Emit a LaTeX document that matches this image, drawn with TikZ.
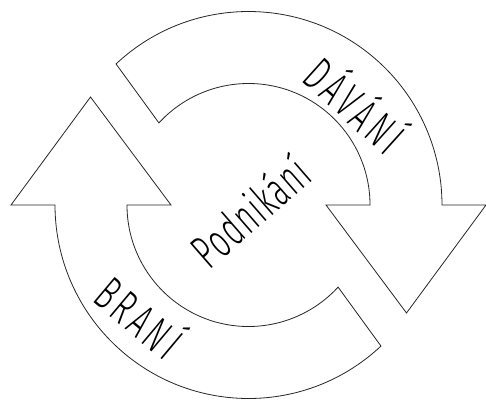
\documentclass[tikz,border=0pt]{standalone}
\usepackage{fontspec}
\newfontfamily\hand{Fira Sans}[UprightFont={* Light},FakeStretch=0.6,LetterSpace=9]
\newfontfamily\handtight{Fira Sans}[UprightFont={* Light},FakeStretch=0.6,LetterSpace=3]
\begin{document}
\begin{tikzpicture}[x=1pt,y=1pt,
  arrowshape/.style={draw=black!85,line width=0.8pt,fill=white,line join=miter},
  lbl/.style={font=\hand\fontsize{48}{52}\selectfont,inner sep=0pt},
  lblc/.style={font=\handtight\fontsize{48}{52}\selectfont,inner sep=0pt}]
\useasboundingbox (-248.5,-195) rectangle (237.5,205);
% upper arrow (DAVANI)
\draw[arrowshape] (133.2:193.5pt) arc[start angle=133.2,end angle=0,radius=193.5pt]
  -- (237.5pt,0pt) -- (158pt,-108pt) -- (77.5pt,0pt) -- (121.5pt,0pt)
  arc[start angle=0,end angle=137.5,radius=121.5pt] -- cycle;
% lower arrow (BRANI)
\begin{scope}[rotate=180]
\draw[arrowshape] (133.2:193.5pt) arc[start angle=133.2,end angle=0,radius=193.5pt]
  -- (237.5pt,0pt) -- (158pt,-108pt) -- (77.5pt,0pt) -- (121.5pt,0pt)
  arc[start angle=0,end angle=137.5,radius=121.5pt] -- cycle;
\end{scope}
% labels
\node[lbl,rotate=-42] (davani) at (109,102) {DÁVÁNÍ};
\node[lbl,rotate=-40] (brani) at (-107,-110) {BRANÍ};
\node[lblc,rotate=41] (podnikani) at (1,-6) {Podnikání};
\end{tikzpicture}
\end{document}
